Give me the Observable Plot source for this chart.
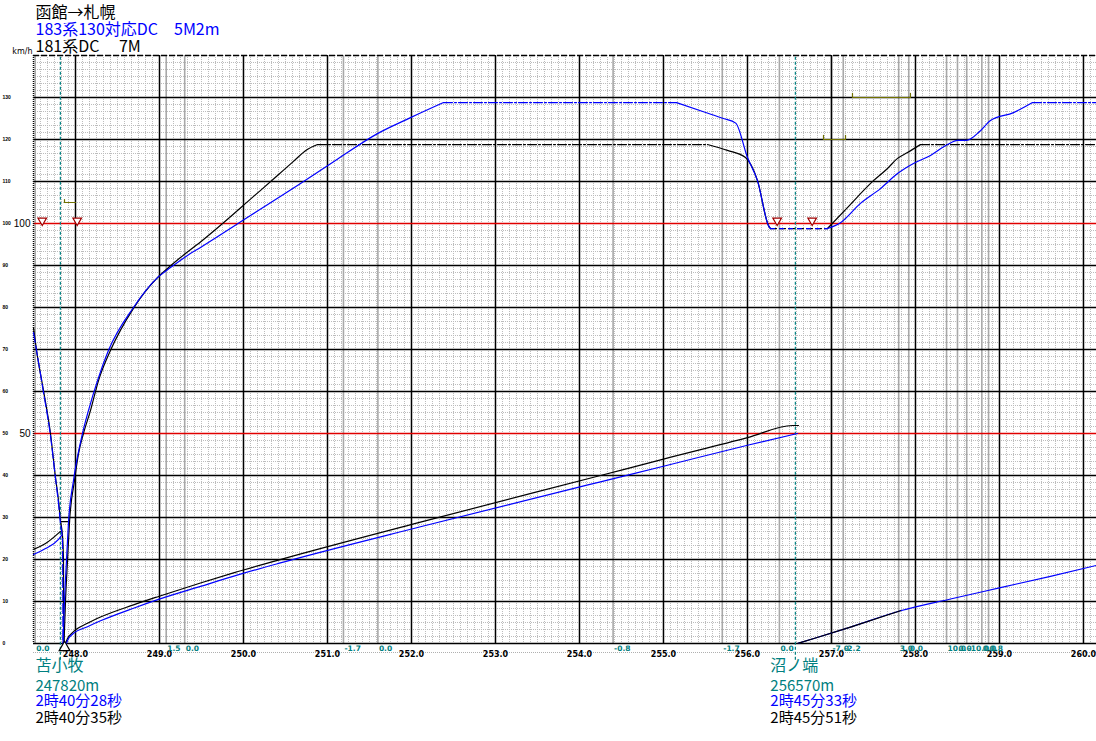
<!DOCTYPE html>
<html><head><meta charset="utf-8">
<script src="https://cdn.jsdelivr.net/npm/d3@7"></script>
<script src="https://cdn.jsdelivr.net/npm/@observablehq/plot@0.6"></script>
<style>html,body{margin:0;padding:0;background:#fff;} #chart{width:1096px;height:741px;overflow:hidden}</style>
</head><body><div id="chart"></div>
<script>
// ---- titles ----
const titleRoute = "函館→札幌";
const titleBlue = "183系130対応DC\u30005M2m";
const titleBlack = "181系DC\u3000 7M";
const unitLabel = "km/h";

// ---- stations ----
const stationKm = [247.82, 256.57];
const stationNames = ["苫小牧", "沼ノ端"];
const stationDist = ["247820m", "256570m"];
const blueTimes = ["2時40分28秒", "2時45分33秒"];
const blackTimes = ["2時40分35秒", "2時45分51秒"];

// ---- gradient change points (km, ‰) ----
const gradeKm = [247.52, 249.08, 249.30, 251.19, 251.60, 254.40, 255.70, 256.38, 257.00, 257.14, 257.80, 257.92, 258.37, 258.50, 258.61, 258.79, 258.87];
const gradeLabel = ["0.0", "1.5", "0.0", "-1.7", "0.0", "-0.8", "-1.7", "0.0", "-7.0", "-2.2", "3.0", "0.0", "10.0", "0.0", "-10.0", "0.0", "0.8"];

// ---- speed limit markers ----
const limitTriKm = [247.604, 248.02, 256.353, 256.77];
const limitTriV = 100.7;
const oliveMarks = [
  [[247.869, 105.7], [247.869, 105.0], [248.0, 105.0]],
  [[256.905, 121.0], [256.905, 120.0], [257.167, 120.0], [257.167, 121.0]],
  [[257.25, 131.0], [257.25, 130.0], [257.94, 130.0], [257.94, 131.0]]
];

// ---- 181系 (black) speed curve [km, km/h] ----
const blackApproach = [[247.500,75.2],[247.536,69.8],[247.619,60.2],[247.702,50.0],[247.762,39.5],[247.798,34.0],[247.821,29.3],[247.845,25.7],[247.857,19.8],[247.860,0]];
const blackDepart = [[247.863,0],[247.881,10.2],[247.905,19.8],[247.929,29.0],[247.988,38.8],[248.036,45.2],[248.095,50.0],[248.179,55.5],[248.274,62.6],[248.417,69.8],[248.690,79.8],[248.976,87.1],[249.095,89.3],[249.250,91.9],[249.488,95.6],[249.786,100.6],[250.083,105.8],[250.381,111.0],[250.595,114.8],[250.750,117.5],[250.881,118.8]];
const blackCruise1 = [[250.881,118.8],[255.524,118.8]];
const blackBrake = [[255.524,118.8],[255.762,117.4],[255.976,115.7],[256.119,110.2],[256.250,99.5],[256.274,98.8]];
const blackLow = [[256.274,98.8],[256.952,98.8]];
const blackAccel2 = [[256.952,98.8],[257.190,103.8],[257.500,110.2],[257.667,113.1],[257.786,115.5],[257.905,116.9],[258.060,118.8]];
const blackCruise2 = [[258.060,118.8],[260.155,118.8]];
const blackStopBox = [[247.821,29.0],[247.929,29.0]];

// ---- 183系 (blue) speed curve [km, km/h] ----
const blueApproach = [[247.500,74.0],[247.536,69.8],[247.619,59.8],[247.702,49.5],[247.762,39.3],[247.798,33.3],[247.821,28.6],[247.845,24.5],[247.851,0]];
const blueDepart = [[247.851,0],[247.869,10.2],[247.893,19.8],[247.917,29.0],[247.976,38.8],[248.083,50.0],[248.155,55.5],[248.262,62.6],[248.393,69.8],[248.690,80.0],[248.976,87.1],[249.131,89.5],[249.333,92.4],[249.488,94.3],[250.083,101.9],[250.679,109.5],[251.095,115.0],[251.595,121.4],[251.988,125.2],[252.381,128.8]];
const blueCruise1 = [[252.381,128.8],[255.155,128.8]];
const blueBrake = [[255.155,128.8],[255.476,126.6],[255.714,125.0],[255.860,123.9],[256.000,115.7],[256.119,110.2],[256.250,99.5],[256.274,98.8]];
const blueLow = [[256.274,98.8],[256.952,98.8]];
const blueAccel2 = [[256.952,98.8],[257.107,100.2],[257.345,104.8],[257.583,108.3],[257.786,111.9],[257.976,114.3],[258.179,116.2],[258.381,118.8],[258.500,119.8],[258.607,119.8],[258.774,122.1],[258.893,124.5],[259.167,126.4],[259.393,128.8]];
const blueCruise2 = [[259.393,128.8],[260.155,128.8]];

// ---- running-time curves [km, scale value] ----
const blackTimeBefore = [[247.500,22.4],[247.643,23.8],[247.821,26.7]];
const blueTimeBefore = [[247.500,21.2],[247.643,22.6],[247.798,24.8],[247.833,25.7]];
const blackTimeAfter = [[247.881,0],[247.905,1.2],[247.964,2.6],[248.143,4.8],[248.298,6.3],[248.690,9.2],[248.988,11.2],[249.488,14.4],[249.881,16.8],[250.405,19.8],[252.107,28.9],[254.250,40.0],[255.000,43.9],[256.000,49.0],[256.536,51.9],[256.607,51.9]];
const blueTimeAfter = [[247.893,0],[247.905,0.7],[247.964,2.2],[248.143,4.0],[248.298,5.4],[248.690,8.4],[248.988,10.5],[249.488,13.6],[249.964,16.5],[250.405,19.0],[252.107,27.8],[254.250,38.5],[255.000,42.2],[256.000,47.2],[256.595,50.0]];
const timeAfter2 = [[256.595,0],[256.810,1.3],[257.226,3.9],[257.821,7.8],[258.417,10.6],[259.012,13.3],[259.607,16.0],[260.155,18.6]];

// ---- axes ----
const xDomain = [247.5, 260.155];
const yDomain = [0, 140];
const majorKm = d3.range(248, 261);
const speedTicks = d3.range(0, 131, 10);
const redSpeeds = [50, 100];

// derived tables
const stations = stationKm.map((km, i) => ({km, name: stationNames[i], dist: stationDist[i], blue: blueTimes[i], black: blackTimes[i]}));
const grades = gradeKm.map((km, i) => ({km, label: gradeLabel[i]}));
const minorKm = d3.range(-6, 147).map(i => 248 + i / 12);
const minorV = d3.range(0, 85).map(i => i * 10 / 6);

const X = d => d[0], Y = d => d[1];
const JP = "'Noto Sans CJK JP', sans-serif";
const teal = "#008080";
const lw = 1.2;
const dash = "9,2,2,2";

const line = (data, stroke, extra = {}) => Plot.line(data, {x: X, y: Y, stroke, strokeWidth: lw, curve: "monotone-x", ...extra});

const chart = Plot.plot({
  width: 1096, height: 741,
  marginLeft: 33, marginRight: 0, marginTop: 55, marginBottom: 98,
  x: {domain: xDomain, axis: null},
  y: {domain: yDomain, axis: null},
  style: {background: "white", fontFamily: "'DejaVu Sans', sans-serif", overflow: "visible"},
  marks: [
    // minor grid
    Plot.ruleX(minorKm, {stroke: "#bdbdbd", strokeDasharray: "1,1", strokeWidth: 1}),
    Plot.ruleY(minorV, {stroke: "#bdbdbd", strokeDasharray: "1,1", strokeWidth: 1}),
    // gradient change lines
    Plot.ruleX(gradeKm, {stroke: "#a8a8a8", strokeWidth: 1.6}),
    // major grid
    Plot.ruleX(majorKm, {stroke: "black", strokeWidth: 1.5}),
    Plot.ruleY(speedTicks.filter(v => !redSpeeds.includes(v)), {stroke: "black", strokeWidth: 1.5}),
    Plot.ruleY(redSpeeds, {stroke: "#e00000", strokeWidth: 1.5}),
    Plot.ruleY([140], {stroke: "black", strokeWidth: 1.5, strokeDasharray: "6,2"}),
    Plot.ruleX([xDomain[0]], {stroke: "black", strokeDasharray: "1,1", strokeWidth: 1.5}),
    Plot.ruleY([0], {dy: 9, stroke: "#b0b0b0", strokeDasharray: "1,1"}),
    // station lines
    Plot.ruleX(stationKm, {y1: -4, y2: 140, stroke: teal, strokeWidth: 1.2, strokeDasharray: "3,2"}),
    // speed limit annotations
    ...oliveMarks.map(m => line(m, "#707000", {strokeWidth: 1.2, curve: "linear"})),
    Plot.dot(limitTriKm, {x: d => d, y: limitTriV, symbol: "triangle", rotate: 180, r: 3.2, stroke: "#a00000", fill: "white", strokeWidth: 1.2}),
    // time curves
    line(blackTimeBefore, "black"),
    line(blueTimeBefore, "blue"),
    line(blackTimeAfter, "black"),
    line(blueTimeAfter, "blue"),
    line(timeAfter2, "blue"),
    line(timeAfter2.filter(d => d[0] < 257.9), "black"),
    // speed curves black
    line(blackApproach, "black"),
    line(blackStopBox, "black", {curve: "linear"}),
    line(blackDepart, "black"),
    line(blackCruise1, "black", {strokeDasharray: dash}),
    line(blackBrake, "black"),
    line(blackLow, "black", {strokeDasharray: "6,3"}),
    line(blackAccel2, "black"),
    line(blackCruise2, "black", {strokeDasharray: dash}),
    // speed curves blue
    line(blueApproach, "blue", {strokeDasharray: "10,3"}),
    line(blueDepart, "blue"),
    line(blueCruise1, "blue", {strokeDasharray: dash}),
    line(blueBrake, "blue"),
    line(blueLow, "blue", {strokeDasharray: "4,5"}),
    line(blueAccel2, "blue"),
    line(blueCruise2, "blue", {strokeDasharray: dash}),
    // stop triangle
    Plot.dot([stationKm[0]], {x: d => d + 0.05, y: 0, dy: 4, symbol: "triangle", r: 4, stroke: "black", fill: "white", strokeWidth: 1.2}),
    // y tick labels
    Plot.text(speedTicks, {y: d => d, text: d => String(d), frameAnchor: "left", dx: -31, textAnchor: "start", fontSize: 5, fontWeight: "bold", fontFamily: "'Liberation Sans', sans-serif", fill: "black"}),
    Plot.text(redSpeeds, {y: d => d, text: d => String(d), frameAnchor: "left", dx: -3, textAnchor: "end", fontSize: 10, fontFamily: "'Liberation Sans', sans-serif", fill: "black"}),
    // x tick labels
    Plot.text(majorKm, {x: d => d, y: 0, text: d => d.toFixed(1), dy: 11, fontSize: 8, fontWeight: "bold", fill: "black"}),
    // grade labels
    Plot.text(grades, {x: "km", y: 0, text: "label", dx: 1, dy: 5, textAnchor: "start", fontSize: 7.5, fontWeight: "bold", fill: teal}),
    // station labels
    Plot.text(stations, {x: "km", y: 0, text: "name", dx: -25, dy: 22, textAnchor: "start", fontSize: 16, fontFamily: JP, fill: teal}),
    Plot.text(stations, {x: "km", y: 0, text: "dist", dx: -25, dy: 43, textAnchor: "start", fontSize: 15, fontFamily: JP, fill: teal}),
    Plot.text(stations, {x: "km", y: 0, text: "blue", dx: -25, dy: 58, textAnchor: "start", fontSize: 15, fontFamily: JP, fill: "blue"}),
    Plot.text(stations, {x: "km", y: 0, text: "black", dx: -25, dy: 75, textAnchor: "start", fontSize: 15, fontFamily: JP, fill: "black"}),
    // titles
    Plot.text([titleRoute], {frameAnchor: "top-left", text: d => d, dx: 2, dy: -43, textAnchor: "start", lineAnchor: "middle", fontSize: 16, fontFamily: JP, fill: "black"}),
    Plot.text([titleBlue], {frameAnchor: "top-left", text: d => d, dx: 2, dy: -26, textAnchor: "start", lineAnchor: "middle", fontSize: 16, fontFamily: JP, fill: "blue"}),
    Plot.text([titleBlack], {frameAnchor: "top-left", text: d => d, dx: 2, dy: -9, textAnchor: "start", lineAnchor: "middle", fontSize: 16, fontFamily: JP, fill: "black"}),
    Plot.text([unitLabel], {frameAnchor: "top-left", text: d => d, dx: -1, dy: -4, textAnchor: "end", lineAnchor: "middle", fontSize: 8, fill: "black"})
  ]
});
document.getElementById("chart").append(chart);
</script></body></html>
